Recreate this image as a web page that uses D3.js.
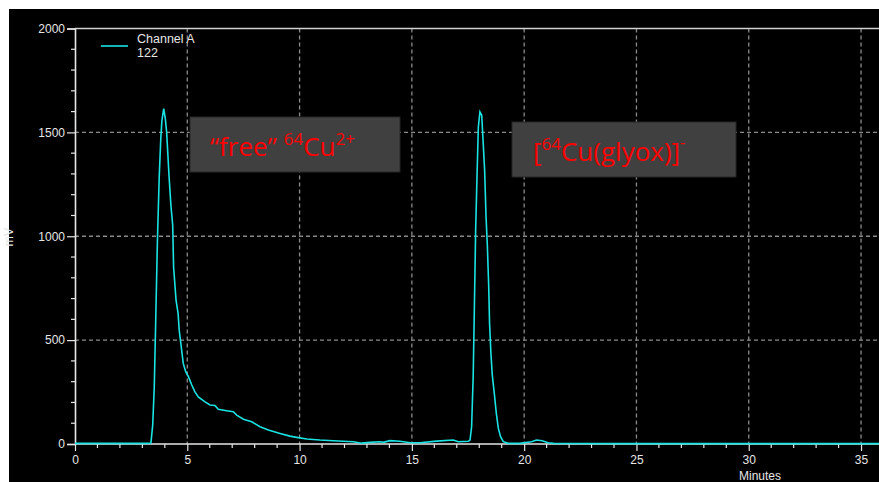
<!DOCTYPE html>
<html>
<head>
<meta charset="utf-8">
<script src="https://cdn.jsdelivr.net/npm/d3@7"></script>
<style>
  html, body { margin: 0; padding: 0; background: #fff; }
  svg { display: block; }
</style>
</head>
<body>
<div id="chart"></div>
<script>
// trace: time (min) and signal (mV)
const times = [0, 1, 2, 3, 3.38, 3.46, 3.53, 3.59, 3.67, 3.75, 3.82, 3.87, 3.95, 4.02, 4.08, 4.19, 4.27, 4.35, 4.39, 4.5, 4.59, 4.64, 4.73, 4.82, 4.93, 5.05, 5.2, 5.34, 5.49, 5.79, 6.01, 6.23, 6.38, 6.75, 7.05, 7.2, 7.5, 7.87, 8.24, 8.61, 9.13, 9.57, 9.87, 10.32, 10.9, 11.5, 12.39, 12.76, 13.13, 13.58, 13.73, 14.02, 14.47, 14.92, 15.36, 16.1, 16.84, 17.07, 17.51, 17.59, 17.66, 17.73, 17.78, 17.84, 17.9, 17.96, 18.03, 18.11, 18.17, 18.24, 18.3, 18.36, 18.42, 18.46, 18.52, 18.58, 18.67, 18.76, 18.85, 18.95, 19.07, 19.29, 19.8, 20.33, 20.55, 20.8, 21.07, 21.3, 25, 30, 35, 35.8];
const signal = [3, 3, 3, 3, 4, 91, 275, 572, 980, 1285, 1470, 1557, 1614, 1567, 1502, 1285, 1149, 1053, 852, 692, 629, 548, 468, 388, 348, 324, 284, 251, 227, 203, 188, 185, 167, 160, 155, 139, 119, 107, 83, 67, 51, 38, 32, 24, 19, 16, 11, 4, 8, 11, 8, 16, 13, 6, 6, 14, 19, 11, 13, 19, 83, 324, 636, 1029, 1285, 1526, 1598, 1582, 1462, 1317, 1101, 957, 764, 580, 436, 332, 244, 148, 75, 35, 11, 3, 3, 11, 19, 16, 6, 3, 2, 2, 2, 2];

const xTicks = [0, 5, 10, 15, 20, 25, 30, 35];
const yTicks = [0, 500, 1000, 1500, 2000];
const legendLabels = ["Channel A", "122"];

const W = 879, H = 482;
const svg = d3.select("#chart").append("svg").attr("width", W).attr("height", H);

svg.append("rect").attr("x", 9).attr("y", 9).attr("width", W - 9).attr("height", H - 9).attr("fill", "#000");

const x = d3.scaleLinear().domain([0, 35.8]).range([75, 879]);
const y = d3.scaleLinear().domain([0, 2000]).range([444, 28.5]);

const tickColor = "#e6e6e6";
const font = "'Liberation Sans', Arial, sans-serif";

// grid
svg.append("g").selectAll("line").data(xTicks.filter(d => d > 0)).enter().append("line")
  .attr("x1", d => x(d)).attr("x2", d => x(d)).attr("y1", y(2000)).attr("y2", y(0))
  .attr("stroke", "#8a8a8a").attr("stroke-width", 1.3).attr("stroke-dasharray", "4,3");
svg.append("g").selectAll("line").data(yTicks.filter(d => d > 0 && d < 2000)).enter().append("line")
  .attr("x1", x(0)).attr("x2", W).attr("y1", d => y(d)).attr("y2", d => y(d))
  .attr("stroke", "#8a8a8a").attr("stroke-width", 1.3).attr("stroke-dasharray", "4,3");

// frame
svg.append("line").attr("x1", x(0)).attr("x2", W).attr("y1", y(2000)).attr("y2", y(2000))
  .attr("stroke", "#d0d0d0").attr("stroke-width", 1.5);

// axes
const xAxis = d3.axisBottom(x).tickValues(xTicks).tickFormat(d3.format("d")).tickSize(7).tickPadding(4);
const gx = svg.append("g").attr("transform", `translate(0,${y(0)})`).call(xAxis);
const xMinor = d3.range(0, 36, 1).filter(d => d % 5 !== 0);
gx.selectAll(".minor").data(xMinor).enter().append("line").attr("class", "minor")
  .attr("x1", d => x(d)).attr("x2", d => x(d)).attr("y1", 0).attr("y2", 4);

const yAxis = d3.axisLeft(y).tickValues(yTicks).tickFormat(d3.format("d")).tickSize(8).tickPadding(2);
const gy = svg.append("g").attr("transform", `translate(${x(0)},0)`).call(yAxis);
const yMinor = d3.range(100, 2000, 100).filter(d => d % 500 !== 0);
gy.selectAll(".minor").data(yMinor).enter().append("line").attr("class", "minor")
  .attr("x1", -4).attr("x2", 0).attr("y1", d => y(d)).attr("y2", d => y(d));

[gx, gy].forEach(g => {
  g.select(".domain").attr("stroke", tickColor).attr("stroke-width", 1.6);
  g.selectAll("line").attr("stroke", tickColor).attr("stroke-width", 1.2);
  g.selectAll("text").attr("fill", tickColor).style("font-family", font).style("font-size", "12px");
});
gx.select(".domain").attr("d", `M${x(0)},0H${W}`);

// trace
const pts = times.map((t, i) => [t, signal[i]]);
svg.append("path").datum(pts)
  .attr("fill", "none").attr("stroke", "#19e3e3").attr("stroke-width", 1.6)
  .attr("d", d3.line().x(d => x(d[0])).y(d => y(d[1])));

// legend
svg.append("line").attr("x1", 101).attr("x2", 128).attr("y1", 46).attr("y2", 46)
  .attr("stroke", "#19e3e3").attr("stroke-width", 1.6);
svg.append("g").selectAll("text").data(legendLabels).enter().append("text")
  .attr("x", 137).attr("y", (d, i) => 43 + i * 14)
  .attr("fill", tickColor).style("font-family", font).style("font-size", "12.5px")
  .text(d => d);

// axis titles
svg.append("text").attr("x", 760).attr("y", 480).attr("text-anchor", "middle")
  .attr("fill", tickColor).style("font-family", font).style("font-size", "12px").text("Minutes");
svg.append("text").attr("transform", "translate(13,237) rotate(-90)").attr("text-anchor", "middle")
  .attr("fill", tickColor).style("font-family", font).style("font-size", "12.5px").text("mV");

// annotation boxes
const annFont = "'Open Sans', 'Noto Sans', sans-serif";
function box(x0, y0, w, h) {
  svg.append("rect").attr("x", x0).attr("y", y0).attr("width", w).attr("height", h)
    .attr("fill", "#404040").attr("stroke", "#262626").attr("stroke-width", 1);
}
box(190, 117, 210, 55);
box(512, 122, 224, 55);

const t1 = svg.append("text").attr("x", 210).attr("y", 156).attr("fill", "#ff0000")
  .style("font-family", annFont).style("font-size", "26px");
t1.append("tspan").text("\u201cfree\u201d");
t1.append("tspan").attr("dx", 7).attr("dy", -11).style("font-size", "17px").text("64");
t1.append("tspan").attr("dy", 11).text("Cu");
t1.append("tspan").attr("dy", -11).style("font-size", "17px").text("2+");

const t2 = svg.append("text").attr("x", 533).attr("y", 161).attr("fill", "#ff0000")
  .style("font-family", annFont).style("font-size", "26px");
t2.append("tspan").text("[");
t2.append("tspan").attr("dy", -11).style("font-size", "17px").text("64");
t2.append("tspan").attr("dy", 11).text("Cu(glyox)]");
t2.append("tspan").attr("dy", -13).style("font-size", "17px").text("-");
</script>
</body>
</html>
